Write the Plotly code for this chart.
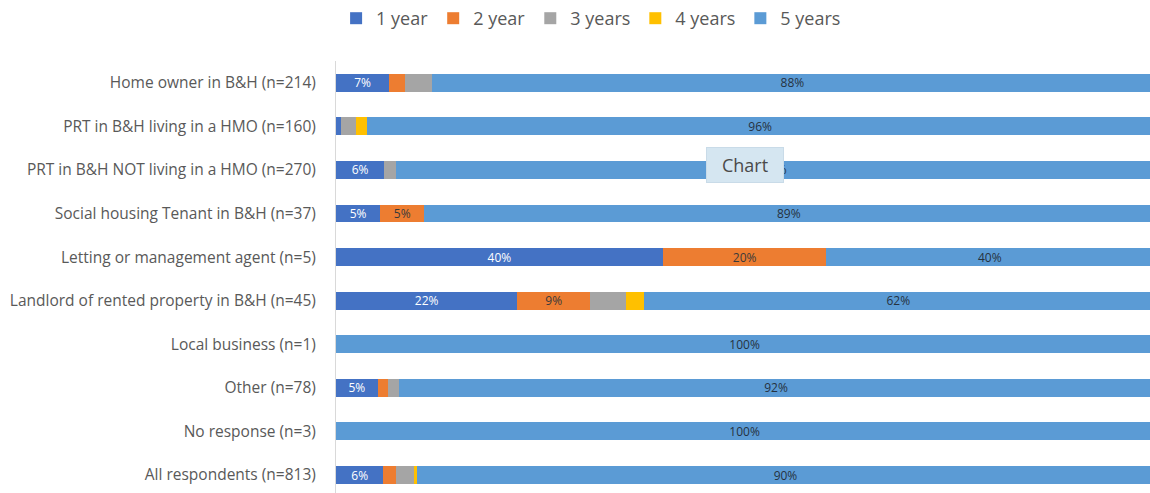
import math
import plotly.graph_objects as go

# Respondent groups (top to bottom)
categories = [
    "Home owner in B&H (n=214)",
    "PRT in B&H living in a HMO (n=160)",
    "PRT in B&H NOT living in a HMO (n=270)",
    "Social housing Tenant in B&H (n=37)",
    "Letting or management agent (n=5)",
    "Landlord of rented property in B&H (n=45)",
    "Local business (n=1)",
    "Other (n=78)",
    "No response (n=3)",
    "All respondents (n=813)",
]

# Share of responses (%) per licence length
one_year = [6.5, 0.6, 5.9, 5.4, 40.0, 22.2, 0.0, 5.1, 0.0, 5.8]
two_year = [1.9, 0.0, 0.0, 5.4, 20.0, 8.9, 0.0, 1.3, 0.0, 1.6]
three_years = [3.3, 1.9, 1.5, 0.0, 0.0, 4.4, 0.0, 1.3, 0.0, 2.1]
four_years = [0.0, 1.3, 0.0, 0.0, 0.0, 2.2, 0.0, 0.0, 0.0, 0.4]
five_years = [88.3, 96.2, 92.6, 89.2, 40.0, 62.2, 100.0, 92.3, 100.0, 90.2]

series = [
    ("1 year", one_year, "#4472C4", "#ffffff"),
    ("2 year", two_year, "#ED7D31", "#3a3a3a"),
    ("3 years", three_years, "#A5A5A5", "#3a3a3a"),
    ("4 years", four_years, "#FFC000", "#3a3a3a"),
    ("5 years", five_years, "#5B9BD5", "#26323f"),
]

FONT = "Open Sans, Liberation Sans, sans-serif"


def pct_label(v):
    # only segments of 5% or more carry a label, rounded half-up
    return f"{math.floor(v + 0.5)}%" if v >= 5 else ""


fig = go.Figure()
for name, vals, color, txtcolor in series:
    fig.add_trace(go.Bar(
        name=name,
        y=categories,
        x=vals,
        orientation="h",
        marker=dict(color=color, line=dict(width=0)),
        text=[pct_label(v) for v in vals],
        textposition="inside",
        insidetextanchor="middle",
        textangle=0,
        textfont=dict(family=FONT, size=12, color=txtcolor),
        hoverinfo="skip",
    ))

fig.add_annotation(
    text="Chart",
    xref="paper", yref="paper",
    x=0.5025, y=0.759,
    xanchor="center", yanchor="middle",
    showarrow=False,
    font=dict(family=FONT, size=18, color="#4a4a4a"),
    bgcolor="#d5e6f1",
    bordercolor="#c9dbe8",
    borderwidth=1,
    width=74,
    height=32,
    borderpad=1,
)

fig.update_layout(
    width=1150,
    height=493,
    barmode="stack",
    bargap=0.59,
    plot_bgcolor="#ffffff",
    paper_bgcolor="#ffffff",
    margin=dict(l=336, r=0, t=61, b=0),
    font=dict(family=FONT, color="#595959"),
    hovermode=False,
    showlegend=True,
    uniformtext=dict(minsize=12, mode="show"),
    legend=dict(
        orientation="h",
        xref="container", yref="container",
        x=0.514, y=1.0,
        xanchor="center", yanchor="top",
        font=dict(family=FONT, size=18, color="#595959"),
        itemwidth=30,
        traceorder="normal",
    ),
    xaxis=dict(
        range=[0, 99.6],
        showgrid=False,
        zeroline=False,
        showticklabels=False,
        showline=False,
        fixedrange=True,
    ),
    yaxis=dict(
        categoryorder="array",
        categoryarray=categories,
        range=[9.413, -0.5],
        showgrid=False,
        zeroline=False,
        showline=True,
        linecolor="#d9d9d9",
        linewidth=1,
        ticks="",
        ticklabelstandoff=16,
        tickfont=dict(family=FONT, size=15.5, color="#595959"),
        fixedrange=True,
    ),
)

fig.write_html("out.html")
